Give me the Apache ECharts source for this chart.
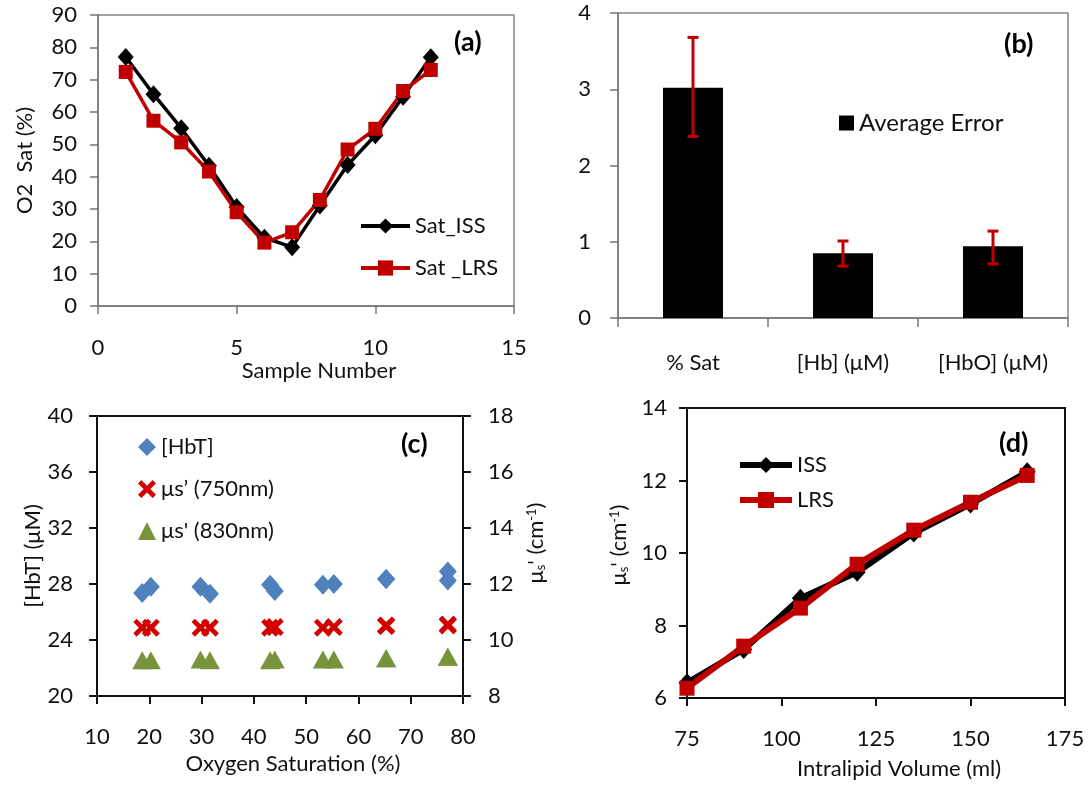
<!DOCTYPE html>
<html>
<head>
<meta charset="utf-8">
<script src="https://cdn.jsdelivr.net/npm/echarts@6/dist/echarts.min.js"></script>
<style>
html, body { margin: 0; padding: 0; background: #fff; }
#chart { width: 1088px; height: 786px; }
</style>
</head>
<body>
<div id="chart"></div>
<script>
// (a) oxygen saturation per sample
const sampleNo = [1, 2, 3, 4, 5, 6, 7, 8, 9, 10, 11, 12]
const satISS = [77, 65.5, 55, 43.4, 30.6, 21.1, 18.2, 31.1, 43.6, 52.8, 64.7, 76.9]
const satLRS = [72.4, 57.3, 50.6, 41.6, 29, 19.6, 22.8, 32.8, 48.4, 54.8, 66.5, 73]

// (b) average error with error bars
const errCats = ['% Sat', '[Hb] (μM)', '[HbO] (μM)']
const avgErr = [3.02, 0.85, 0.94]
const errLow = [2.38, 0.68, 0.71]
const errHigh = [3.68, 1.01, 1.14]

// (c) HbT and scattering vs oxygen saturation
const satC = [77.1, 65.3, 55.3, 43.1, 29.8, 20.3, 18.65, 31.6, 44.0, 53.2, 65.3, 77.1]
const hbt = [28.9, 28.35, 28.0, 27.95, 27.8, 27.8, 27.35, 27.3, 27.5, 27.95, 28.35, 28.25]
const mus750 = [10.55, 10.52, 10.46, 10.44, 10.44, 10.44, 10.44, 10.44, 10.46, 10.44, 10.5, 10.52]
const mus830 = [9.4, 9.35, 9.3, 9.28, 9.3, 9.28, 9.28, 9.28, 9.3, 9.3, 9.35, 9.4]

// (d) scattering vs intralipid volume
const volumes = [75, 90, 105, 120, 135, 150, 165]
const musISS = [6.42, 7.34, 8.75, 9.47, 10.55, 11.35, 12.24]
const musLRS = [6.27, 7.43, 8.48, 9.69, 10.63, 11.4, 12.14]

const FONT = 'Lato, "Open Sans", sans-serif'
const INK = '#111'
const RED = '#c00000'
const X_MARK = 'path://M3,0 L8,5 L13,0 L16,3 L11,8 L16,13 L13,16 L8,11 L3,16 L0,13 L5,8 L0,3 Z'

const pair = (xs, ys) => xs.map((x, i) => [x, ys[i]])

function axisBase(color, width, margin) {
  return {
    axisLine: { show: true, onZero: false, lineStyle: { color: color, width: width } },
    axisTick: { show: true, length: 8, lineStyle: { color: color, width: width } },
    splitLine: { show: false },
    axisLabel: { color: INK, fontSize: 22, fontFamily: FONT, margin: margin },
    nameTextStyle: { color: INK, fontSize: 22, fontFamily: FONT },
    nameLocation: 'middle'
  }
}

const musName = "{t|μ}{sub|s}{t|' (cm}{sup|-1}{t|)}"
const musRich = {
  t: { fontSize: 22, fontFamily: FONT, color: INK },
  sub: { fontSize: 13, fontFamily: FONT, color: INK, verticalAlign: 'bottom' },
  sup: { fontSize: 13, fontFamily: FONT, color: INK, verticalAlign: 'top' }
}

const legendText = { color: INK, fontSize: 22, fontFamily: FONT }

const option = {
  animation: false,
  backgroundColor: '#fff',
  title: [
    { text: '(a)', left: 454, top: 29, padding: 0 },
    { text: '(b)', left: 1004, top: 31, padding: 0 },
    { text: '(c)', left: 401, top: 431, padding: 0 },
    { text: '(d)', left: 999, top: 430, padding: 0 }
  ].map(t => Object.assign(t, { textStyle: { fontSize: 27, fontWeight: 'bold', fontFamily: FONT, color: '#000' } })),
  grid: [
    { left: 98, top: 15, width: 416, height: 291, show: true, borderColor: '#868686', borderWidth: 1.5 },
    { left: 618, top: 13, width: 450, height: 305, show: true, borderColor: '#868686', borderWidth: 1.5 },
    { left: 97, top: 416, width: 366, height: 280, show: true, borderColor: '#111', borderWidth: 2 },
    { left: 687, top: 408, width: 378, height: 290, show: true, borderColor: '#111', borderWidth: 2 }
  ],
  legend: [
    {
      data: ['Sat_ISS', 'Sat _LRS'], orient: 'vertical', left: 354, top: 210,
      itemWidth: 49, itemHeight: 19, itemGap: 20, selectedMode: false, textStyle: legendText,
      lineStyle: { width: 4 }
    },
    {
      data: ['Average Error'], left: 834, top: 106, icon: 'rect',
      itemWidth: 15, itemHeight: 15, selectedMode: false, textStyle: Object.assign({}, legendText, { fontSize: 24 })
    },
    {
      data: ['[HbT]', 'μs’ (750nm)', "μs' (830nm)"], orient: 'vertical', left: 133, top: 431,
      itemWidth: 18, itemHeight: 18, itemGap: 20, selectedMode: false, textStyle: legendText
    },
    {
      data: ['ISS', 'LRS'], orient: 'vertical', left: 732, top: 449,
      itemWidth: 52, itemHeight: 20, itemGap: 13, selectedMode: false, textStyle: legendText,
      lineStyle: { width: 6 }
    }
  ],
  xAxis: [
    Object.assign(axisBase('#777', 1.5, 31), {
      gridIndex: 0, type: 'value', min: 0, max: 15, interval: 5,
      name: 'Sample Number', nameGap: 53,
      nameTextStyle: { color: INK, fontSize: 22, fontFamily: FONT, padding: [0, 0, 0, 26] }
    }),
    Object.assign(axisBase('#777', 1.5, 34), {
      gridIndex: 1, type: 'category', data: errCats,
      axisTick: { show: true, length: 9, alignWithLabel: false, lineStyle: { color: '#777', width: 1.5 } }
    }),
    Object.assign(axisBase('#111', 2, 30), {
      gridIndex: 2, type: 'value', min: 10, max: 80, interval: 10,
      name: 'Oxygen Saturation (%)', nameGap: 57,
      nameTextStyle: { color: INK, fontSize: 22, fontFamily: FONT, padding: [0, 0, 0, 26] }
    }),
    Object.assign(axisBase('#111', 2, 30), {
      gridIndex: 3, type: 'value', min: 75, max: 175, interval: 25,
      name: 'Intralipid Volume (ml)', nameGap: 60,
      nameTextStyle: { color: INK, fontSize: 22, fontFamily: FONT, padding: [0, 0, 0, 46] }
    })
  ],
  yAxis: [
    Object.assign(axisBase('#777', 1.5, 21), {
      gridIndex: 0, type: 'value', min: 0, max: 90, interval: 10,
      name: 'O2  Sat (%)', nameGap: 62
    }),
    Object.assign(axisBase('#777', 1.5, 27), {
      gridIndex: 1, type: 'value', min: 0, max: 4, interval: 1
    }),
    Object.assign(axisBase('#111', 2, 24), {
      gridIndex: 2, type: 'value', min: 20, max: 40, interval: 4,
      name: '[HbT] (μM)', nameGap: 52
    }),
    Object.assign(axisBase('#111', 2, 25), {
      gridIndex: 2, type: 'value', position: 'right', min: 8, max: 18, interval: 2,
      name: musName, nameGap: 62,
      nameTextStyle: { rich: musRich, padding: [0, 0, 0, 26] }
    }),
    Object.assign(axisBase('#111', 2, 20), {
      gridIndex: 3, type: 'value', min: 6, max: 14, interval: 2,
      name: musName, nameGap: 57,
      nameTextStyle: { rich: musRich, padding: [0, 0, 0, 16] }
    })
  ],
  series: [
    {
      name: 'Sat_ISS', type: 'line', xAxisIndex: 0, yAxisIndex: 0,
      data: pair(sampleNo, satISS),
      symbol: 'diamond', symbolSize: [16, 18],
      lineStyle: { color: '#000', width: 3.5 }, itemStyle: { color: '#000' }
    },
    {
      name: 'Sat _LRS', type: 'line', xAxisIndex: 0, yAxisIndex: 0,
      data: pair(sampleNo, satLRS),
      symbol: 'rect', symbolSize: 14,
      lineStyle: { color: RED, width: 3.5 }, itemStyle: { color: RED }
    },
    {
      name: 'Average Error', type: 'bar', xAxisIndex: 1, yAxisIndex: 1,
      data: avgErr, barWidth: '40%', itemStyle: { color: '#000' }
    },
    {
      name: 'errorbars', type: 'custom', xAxisIndex: 1, yAxisIndex: 1, z: 5,
      data: errCats.map((c, i) => [i, errLow[i], errHigh[i]]),
      encode: { x: 0, y: [1, 2] },
      renderItem: function(params, api) {
        const lo = api.coord([api.value(0), api.value(1)])
        const hi = api.coord([api.value(0), api.value(2)])
        const w = 11
        const st = { stroke: RED, lineWidth: 3 }
        return {
          type: 'group',
          children: [
            { type: 'line', shape: { x1: lo[0], y1: lo[1], x2: hi[0], y2: hi[1] }, style: st },
            { type: 'line', shape: { x1: lo[0] - w / 2, y1: lo[1], x2: lo[0] + w / 2, y2: lo[1] }, style: st },
            { type: 'line', shape: { x1: hi[0] - w / 2, y1: hi[1], x2: hi[0] + w / 2, y2: hi[1] }, style: st }
          ]
        }
      }
    },
    {
      name: '[HbT]', type: 'scatter', xAxisIndex: 2, yAxisIndex: 2,
      data: pair(satC, hbt), symbol: 'diamond', symbolSize: [18, 20],
      itemStyle: { color: '#4f81bd', opacity: 1 }
    },
    {
      name: 'μs’ (750nm)', type: 'scatter', xAxisIndex: 2, yAxisIndex: 3,
      data: pair(satC, mus750), symbol: X_MARK, symbolSize: 18,
      itemStyle: { color: '#d40000', opacity: 1 }
    },
    {
      name: "μs' (830nm)", type: 'scatter', xAxisIndex: 2, yAxisIndex: 3,
      data: pair(satC, mus830), symbol: 'triangle', symbolSize: [20, 18],
      itemStyle: { color: '#77933c', opacity: 1 }
    },
    {
      name: 'ISS', type: 'line', xAxisIndex: 3, yAxisIndex: 4,
      data: pair(volumes, musISS),
      symbol: 'diamond', symbolSize: [17, 19],
      lineStyle: { color: '#000', width: 6 }, itemStyle: { color: '#000' }
    },
    {
      name: 'LRS', type: 'line', xAxisIndex: 3, yAxisIndex: 4,
      data: pair(volumes, musLRS),
      symbol: 'rect', symbolSize: 15,
      lineStyle: { color: RED, width: 6 }, itemStyle: { color: RED }
    }
  ]
}

const chart = echarts.init(document.getElementById('chart'))
chart.setOption(option)
</script>
</body>
</html>
